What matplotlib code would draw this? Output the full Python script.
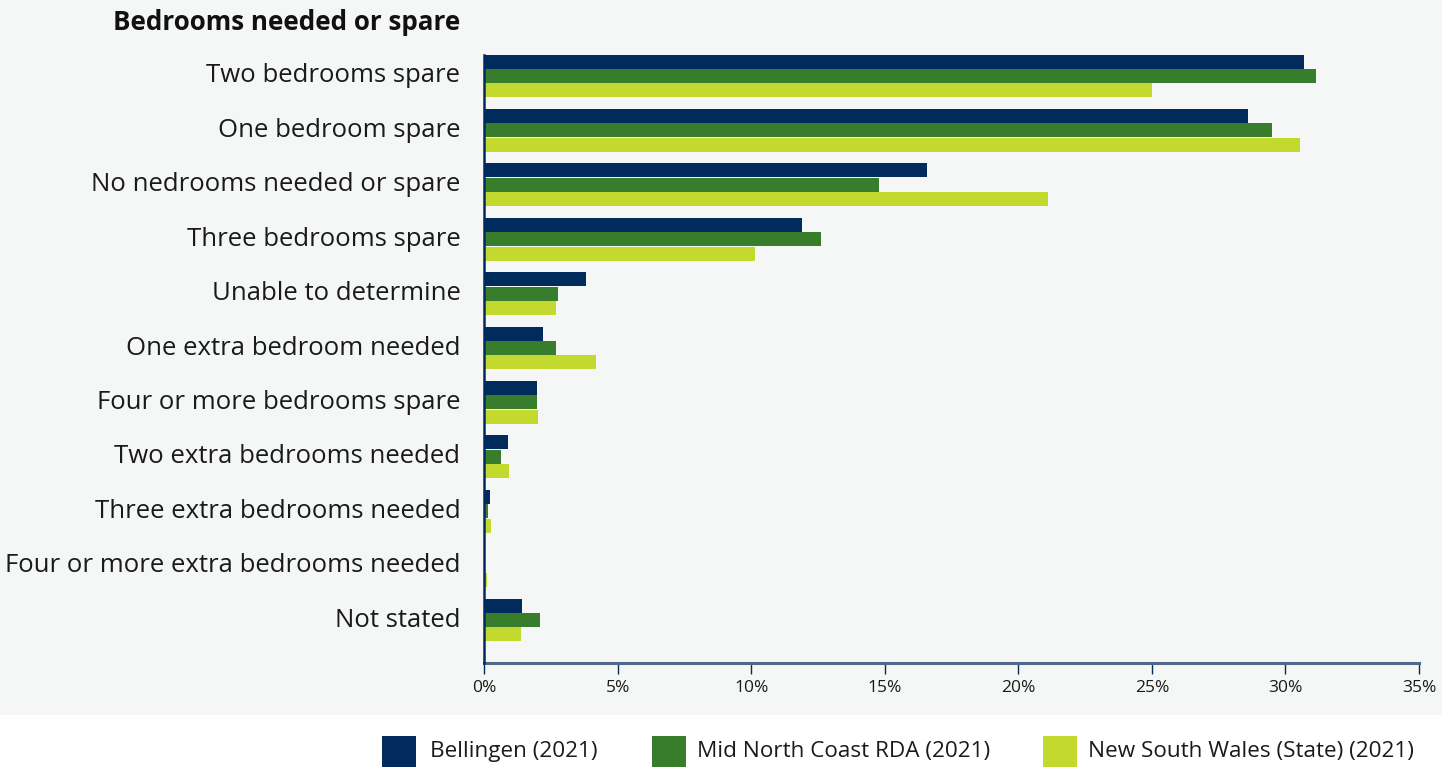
import numpy as np
import matplotlib.pyplot as plt
from matplotlib.patches import Rectangle

plt.rcParams['font.family'] = ['Open Sans', 'DejaVu Sans']

# Data (percent of households)
categories = [
    'Two bedrooms spare',
    'One bedroom spare',
    'No nedrooms needed or spare',
    'Three bedrooms spare',
    'Unable to determine',
    'One extra bedroom needed',
    'Four or more bedrooms spare',
    'Two extra bedrooms needed',
    'Three extra bedrooms needed',
    'Four or more extra bedrooms needed',
    'Not stated',
]
bellingen = [30.7, 28.6, 16.6, 11.9, 3.8, 2.2, 2.0, 0.9, 0.23, 0.0, 1.42]
mid_north_coast = [31.15, 29.5, 14.8, 12.6, 2.77, 2.7, 1.98, 0.64, 0.16, 0.0, 2.1]
nsw = [25.0, 30.55, 21.1, 10.15, 2.7, 4.2, 2.02, 0.94, 0.27, 0.12, 1.38]

series_names = ['Bellingen (2021)', 'Mid North Coast RDA (2021)', 'New South Wales (State) (2021)']
colors = ['#002b5c', '#387d2c', '#c3d92e']
xticks = [0, 5, 10, 15, 20, 25, 30, 35]

W, H = 1453, 767
fig = plt.figure(figsize=(W / 100, H / 100), dpi=100)
fig.patch.set_facecolor('white')
# light grey panel behind the chart
fig.patches.append(Rectangle((0, 1 - 715 / H), 1442 / W, 715 / H,
                             transform=fig.transFigure, facecolor='#f5f7f7',
                             edgecolor='none', zorder=-10))

ax = fig.add_axes([484 / W, 1 - 663 / H, 935 / W, 608 / H])
ax.set_facecolor('none')

y = np.arange(len(categories))
h = 0.265
for i, (vals, col) in enumerate(zip([bellingen, mid_north_coast, nsw], colors)):
    ax.barh(y + (i - 1) * h, vals, height=h * 0.97, color=col, zorder=3)

ax.set_xlim(0, 35)
ax.set_ylim(10.79, -0.386)
ax.set_yticks(y)
ax.set_yticklabels(categories, fontsize=18.5, color='#1a1a1a', va='center')
ax.tick_params(axis='y', length=0, pad=17)
for lab in ax.get_yticklabels():
    lab.set_y(lab.get_position()[1])
ax.set_xticks(xticks)
ax.set_xticklabels([f'{t}%' for t in xticks], fontsize=12.5, color='#1a1a1a')
ax.tick_params(axis='x', length=8, width=1, color='#002b5c', pad=4)

for s in ['top', 'right']:
    ax.spines[s].set_visible(False)
ax.spines['left'].set_color('#002b5c')
ax.spines['left'].set_linewidth(1.8)
ax.spines['bottom'].set_color('#51688a')
ax.spines['bottom'].set_linewidth(2.2)
ax.spines['left'].set_zorder(5)

fig.text(460 / W, 1 - 22 / H, 'Bedrooms needed or spare', ha='right', va='center',
         fontsize=18.7, fontweight='bold', color='#111111')

# legend row along the bottom
leg_box_x = [382, 652, 1043]
leg_text_x = [430, 697, 1088]
for bx, tx, c, n in zip(leg_box_x, leg_text_x, colors, series_names):
    fig.patches.append(Rectangle((bx / W, 0), 34 / W, 31 / H, transform=fig.transFigure,
                                 facecolor=c, edgecolor='none'))
    fig.text(tx / W, 1 - 751 / H, n, ha='left', va='center', fontsize=16.2, color='#1a1a1a')

fig.savefig('out.png', dpi=100, facecolor=fig.get_facecolor())
